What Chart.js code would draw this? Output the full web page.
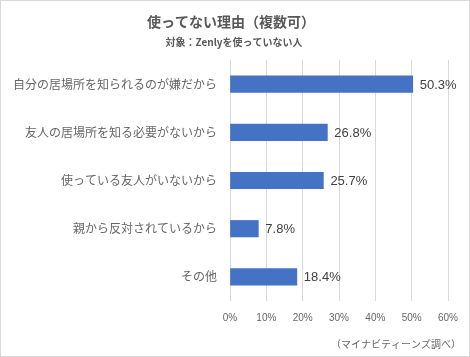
<!DOCTYPE html>
<html>
<head>
<meta charset="utf-8">
<script src="https://cdn.jsdelivr.net/npm/chart.js@4"></script>
<style>
  html, body { margin: 0; padding: 0; background: #fff; }
  #wrap { width: 470px; height: 357px; position: relative; }
  canvas { display: block; }
</style>
</head>
<body>
<div id="wrap"><canvas id="c" width="470" height="357"></canvas></div>
<script>
const categories = [
  "自分の居場所を知られるのが嫌だから",
  "友人の居場所を知る必要がないから",
  "使っている友人がいないから",
  "親から反対されているから",
  "その他"
];
const values = [50.3, 26.8, 25.7, 7.8, 18.4];
const tickValues = [0, 10, 20, 30, 40, 50, 60];
const titleText = "使ってない理由（複数可）";
const subtitleText = "対象：Zenlyを使っていない人";
const footerText = "（マイナビティーンズ調べ）";

const FONT = '"Liberation Sans", "Noto Sans CJK JP", sans-serif';
const JFONT = '"Noto Sans CJK JP", "Liberation Sans", sans-serif';

const decor = {
  id: 'decor',
  beforeDraw(chart) {
    const ctx = chart.ctx;
    ctx.save();
    ctx.fillStyle = '#ffffff';
    ctx.fillRect(0, 0, chart.width, chart.height);
    ctx.strokeStyle = '#d9d9d9';
    ctx.lineWidth = 1;
    ctx.strokeRect(0.5, 0.5, chart.width - 1, chart.height - 1);
    ctx.restore();
  },
  afterDraw(chart) {
    const ctx = chart.ctx;
    ctx.save();
    ctx.fillStyle = '#595959';
    ctx.textAlign = 'center';
    ctx.textBaseline = 'middle';
    ctx.font = 'bold 14px ' + JFONT;
    ctx.fillText(titleText, 231, 22);
    ctx.font = 'bold 10px ' + JFONT;
    ctx.fillText(subtitleText, 234, 42);
    ctx.fillStyle = '#666666';
    ctx.font = '10px ' + JFONT;
    ctx.textAlign = 'right';
    ctx.fillText(footerText, 461, 344);
    ctx.restore();
  },
  afterDatasetsDraw(chart) {
    const ctx = chart.ctx;
    const meta = chart.getDatasetMeta(0);
    ctx.save();
    ctx.fillStyle = '#404040';
    ctx.font = '13px ' + FONT;
    ctx.textAlign = 'left';
    ctx.textBaseline = 'middle';
    meta.data.forEach((bar, i) => {
      ctx.fillText(values[i].toFixed(1) + '%', bar.x + 7, bar.y + 1);
    });
    ctx.restore();
  }
};

new Chart(document.getElementById('c'), {
  type: 'bar',
  data: {
    labels: categories,
    datasets: [{
      data: values,
      backgroundColor: '#4472C4',
      borderWidth: 0,
      barThickness: 16.5
    }]
  },
  options: {
    indexAxis: 'y',
    responsive: false,
    animation: false,
    layout: { padding: { top: 60, right: 22, left: 0, bottom: 0 } },
    plugins: {
      legend: { display: false },
      tooltip: { enabled: false },
      title: { display: false }
    },
    scales: {
      x: {
        min: 0,
        max: 60,
        afterBuildTicks(scale) {
          scale.ticks = tickValues.map(v => ({ value: v }));
        },
        afterFit(scale) { scale.height = 56; },
        grid: { color: '#d9d9d9', drawTicks: false, lineWidth: 1 },
        border: { display: false },
        ticks: {
          padding: 11,
          color: '#666666',
          font: { family: FONT, size: 10 },
          callback: v => v + '%'
        }
      },
      y: {
        afterFit(scale) { scale.width = 230; },
        grid: { display: false, drawTicks: false },
        border: { display: false },
        ticks: {
          padding: 13,
          color: '#666666',
          font: { family: JFONT, size: 12 }
        }
      }
    }
  },
  plugins: [decor]
});
</script>
</body>
</html>
